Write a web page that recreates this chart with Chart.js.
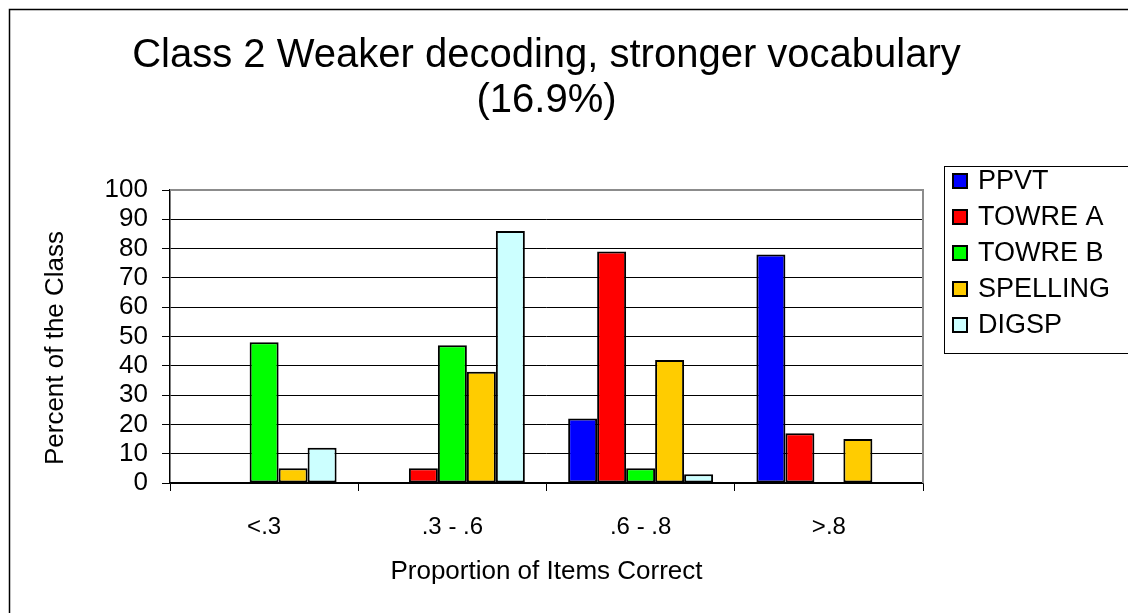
<!DOCTYPE html>
<html>
<head>
<meta charset="utf-8">
<script src="https://cdn.jsdelivr.net/npm/chart.js@4"></script>
<style>
  html, body { margin: 0; padding: 0; background: #fff; }
  #wrap { width: 1128px; height: 613px; }
</style>
</head>
<body>
<div id="wrap"><canvas id="mainChart" width="1128" height="613"></canvas></div>
<script>
const categories = ['<.3', '.3 - .6', '.6 - .8', '>.8'];
const seriesNames = ['PPVT', 'TOWRE A', 'TOWRE B', 'SPELLING', 'DIGSP'];
const ppvt = [0, 0, 22, 78];
const towreA = [0, 5, 79, 17];
const towreB = [48, 47, 5, 0];
const spelling = [5, 38, 42, 15];
const digsp = [12, 86, 3, 0];
const titleLines = ['Class 2 Weaker decoding, stronger vocabulary', '(16.9%)'];
const yTitle = 'Percent of the Class';
const xTitle = 'Proportion of Items Correct';

const colors = ['#0000ff', '#ff0000', '#00ff00', '#ffcc00', '#ccffff'];
const FONT = '"Liberation Sans", Arial, sans-serif';

const datasets = [ppvt, towreA, towreB, spelling, digsp].map((data, i) => ({
  label: seriesNames[i],
  data,
  backgroundColor: colors[i],
  borderColor: '#000',
  borderWidth: ctx => (ctx.raw === 0 ? 0 : 2),
  borderSkipped: false,
  categoryPercentage: 0.77,
  barPercentage: 1
}));

// frame, titles and legend drawn like the old spreadsheet chart
const decor = {
  id: 'decor',
  beforeDraw(chart) {
    const c = chart.ctx;
    c.save();
    c.fillStyle = '#fff';
    c.fillRect(0, 0, chart.width, chart.height);
    c.restore();
  },
  afterDraw(chart) {
    const c = chart.ctx;
    const a = chart.chartArea;
    c.save();
    // outer border
    c.strokeStyle = '#000';
    c.lineWidth = 1.5;
    c.beginPath();
    c.moveTo(9.5, chart.height + 2);
    c.lineTo(9.5, 9.5);
    c.lineTo(chart.width + 2, 9.5);
    c.stroke();

    // plot frame top / right in grey
    c.strokeStyle = '#8c8c8c';
    c.lineWidth = 2;
    c.beginPath();
    c.moveTo(a.left, a.top);
    c.lineTo(a.right, a.top);
    c.lineTo(a.right, a.bottom);
    c.stroke();

    // title
    c.fillStyle = '#000';
    c.font = '40px ' + FONT;
    c.textAlign = 'center';
    c.textBaseline = 'middle';
    const cx = (a.left + a.right) / 2;
    c.fillText(titleLines[0], cx, 56);
    c.fillText(titleLines[1], cx, 101);

    // axis titles
    c.font = '26px ' + FONT;
    c.fillText(xTitle, cx, 572);
    c.save();
    c.translate(56, 348);
    c.rotate(-Math.PI / 2);
    c.fillText(yTitle, 0, 0);
    c.restore();

    // legend
    c.strokeStyle = '#000';
    c.lineWidth = 1;
    c.strokeRect(944.5, 166.5, 200, 187);
    c.font = '27px ' + FONT;
    c.textAlign = 'left';
    chart.data.datasets.forEach((ds, i) => {
      const y = 181 + i * 36;
      c.fillStyle = ds.backgroundColor;
      c.fillRect(953, y - 7, 14, 14);
      c.lineWidth = 2;
      c.strokeRect(953, y - 7, 14, 14);
      c.fillStyle = '#000';
      c.fillText(ds.label, 978, y + 1);
    });
    c.restore();
  }
};

new Chart(document.getElementById('mainChart').getContext('2d'), {
  type: 'bar',
  data: { labels: categories, datasets },
  options: {
    responsive: false,
    animation: false,
    layout: { padding: { left: 0, top: 190, right: 205, bottom: 0 } },
    plugins: {
      legend: { display: false },
      title: { display: false },
      tooltip: { enabled: false }
    },
    scales: {
      x: {
        afterFit: s => { s.height = 130; },
        grid: { drawOnChartArea: false, color: '#000', tickLength: 8, lineWidth: 1 },
        border: { color: '#000', width: 1.5 },
        ticks: { color: '#000', font: { family: FONT, size: 24 }, padding: 22, maxRotation: 0 }
      },
      y: {
        min: 0, max: 100,
        afterFit: s => { s.width = 170; },
        grid: { color: '#000', tickLength: 8, lineWidth: 1 },
        border: { color: '#000', width: 1.5 },
        ticks: { stepSize: 10, autoSkip: false, color: '#000', font: { family: FONT, size: 26 }, padding: 14 }
      }
    }
  },
  plugins: [decor]
});
</script>
</body>
</html>
